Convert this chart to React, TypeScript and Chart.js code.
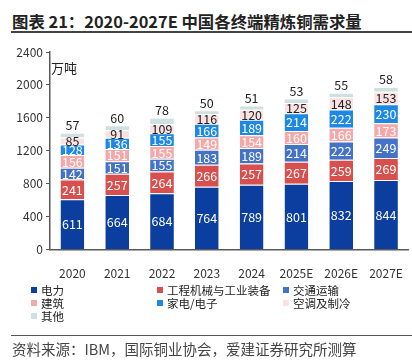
import React, { useEffect, useRef } from "react";
import { Chart, registerables } from "chart.js";

Chart.register(...registerables);

const categories = ["2020", "2021", "2022", "2023", "2024", "2025E", "2026E", "2027E"];
const seriesNames = ["电力", "工程机械与工业装备", "交通运输", "建筑", "家电/电子", "空调及制冷", "其他"];
const power = [611, 664, 684, 764, 789, 801, 832, 844];
const machinery = [241, 257, 264, 266, 257, 267, 259, 269];
const transport = [142, 151, 155, 183, 189, 214, 222, 249];
const building = [156, 151, 155, 149, 154, 160, 166, 173];
const appliance = [128, 136, 155, 166, 189, 214, 222, 230];
const aircon = [85, 91, 109, 116, 120, 125, 148, 153];
const others = [57, 60, 78, 50, 51, 53, 55, 58];
const yTicks = [0, 400, 800, 1200, 1600, 2000, 2400];

const seriesValues = [power, machinery, transport, building, appliance, aircon, others];
const colors = ["#0B3E9F", "#D8504E", "#4472C4", "#F4A8A8", "#1E88E5", "#FCE1E1", "#CFE0E3"];
const labelColors = ["#fff", "#fff", "#fff", "#fff", "#fff", "#222", "#222"];

const FONT = '"Noto Sans CJK SC", "Noto Sans", sans-serif';

const labelPlugin = {
  id: "barLabels",
  afterDatasetsDraw(chart: any) {
    const ctx = chart.ctx;
    const last = chart.data.datasets.length - 1;
    chart.data.datasets.forEach((ds: any, di: number) => {
      const meta = chart.getDatasetMeta(di);
      meta.data.forEach((bar: any, i: number) => {
        const v = ds.data[i];
        const { x, y, base } = bar.getProps(["x", "y", "base"], true);
        ctx.save();
        ctx.font = `12.5px ${FONT}`;
        ctx.textAlign = "center";
        ctx.fillStyle = labelColors[di];
        if (di === last) {
          ctx.textBaseline = "bottom";
          ctx.fillText(String(v), x, y - 1);
        } else {
          ctx.textBaseline = "middle";
          ctx.fillText(String(v), x, (y + base) / 2 + 0.5);
        }
        ctx.restore();
      });
    });
  },
};

export default function App() {
  const ref = useRef<HTMLCanvasElement | null>(null);
  useEffect(() => {
    if (!ref.current) return;
    const chart = new Chart(ref.current, {
      type: "bar",
      data: {
        labels: categories,
        datasets: seriesNames.map((name, i) => ({
          label: name,
          data: seriesValues[i],
          backgroundColor: colors[i],
          borderColor: "#ffffff",
          borderWidth: { top: 1, bottom: 0, left: 0, right: 0 },
          borderSkipped: false,
          barPercentage: 0.53,
          categoryPercentage: 1,
        })),
      },
      options: {
        animation: false,
        responsive: false,
        maintainAspectRatio: false,
        layout: { padding: { left: 0, right: 2, top: 12, bottom: 0 } },
        plugins: { legend: { display: false }, tooltip: { enabled: false } },
        scales: {
          x: {
            stacked: true,
            grid: { display: false },
            border: { display: true, color: "#595959", width: 1.5 },
            ticks: { color: "#333", font: { family: FONT, size: 12 }, padding: 9 },
          },
          y: {
            stacked: true,
            min: 0,
            max: 2400,
            afterBuildTicks: (s: any) => {
              s.ticks = yTicks.map((v) => ({ value: v }));
            },
            afterFit: (s: any) => {
              s.width = 50;
            },
            grid: { drawOnChartArea: false, drawTicks: true, tickLength: 4, color: "#595959" },
            border: { display: true, color: "#595959", width: 1.5 },
            ticks: {
              color: "#333",
              font: { family: FONT, size: 12 },
              padding: 3,
              callback: (v: any) => String(v),
            },
          },
        },
      },
      plugins: [labelPlugin],
    });
    return () => chart.destroy();
  }, []);

  const legendCols = [31, 157, 283];
  const legendRows = [290, 303, 316];

  return (
    <div style={{ position: "fixed", left: 0, top: 0, width: 412, height: 362, background: "#fff", fontFamily: FONT, color: "#333" }}>
      <div style={{ position: "absolute", left: 12, top: 9, fontSize: 16.4, fontWeight: 700, color: "#222", whiteSpace: "nowrap", lineHeight: "24px" }}>
        图表 21：2020-2027E 中国各终端精炼铜需求量
      </div>
      <div style={{ position: "absolute", left: 11, top: 31, width: 401, height: 2, background: "#444" }} />
      <canvas ref={ref} width={412} height={250} style={{ position: "absolute", left: 0, top: 40, width: 412, height: 250 }} />
      <div style={{ position: "absolute", left: 51, top: 59, fontSize: 13, color: "#222", lineHeight: "18px" }}>万吨</div>
      {seriesNames.map((name, i) => (
        <div key={name} style={{ position: "absolute", left: legendCols[i % 3], top: legendRows[Math.floor(i / 3)] - 8, height: 16, display: "flex", alignItems: "center", whiteSpace: "nowrap" }}>
          <span style={{ display: "inline-block", width: 6, height: 6, background: colors[i], marginRight: 4 }} />
          <span style={{ fontSize: 11.5, color: "#222", lineHeight: "16px" }}>{name}</span>
        </div>
      ))}
      <div style={{ position: "absolute", left: 11, top: 335, width: 401, height: 1, background: "#555" }} />
      <div style={{ position: "absolute", left: 12, top: 339, fontSize: 14.5, color: "#444", whiteSpace: "nowrap", lineHeight: "20px" }}>
        资料来源：IBM，国际铜业协会，爱建证券研究所测算
      </div>
    </div>
  );
}
